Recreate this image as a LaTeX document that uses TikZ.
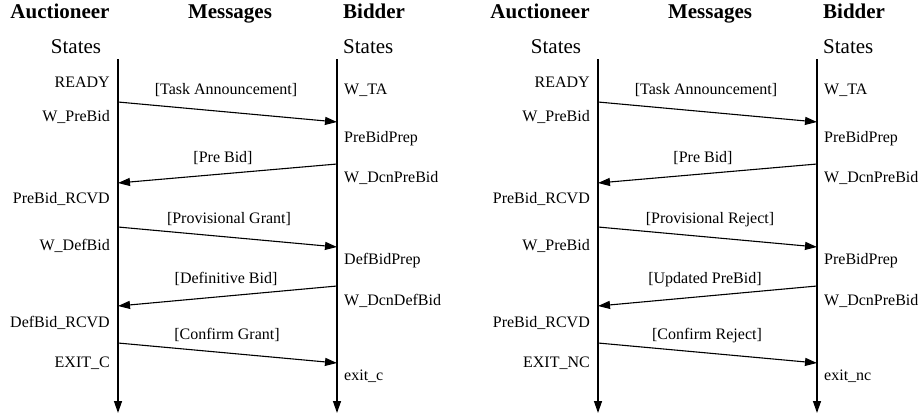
\documentclass[tikz,border=0pt]{standalone}
\usepackage{fontspec}
\setmainfont{Liberation Serif}
\usetikzlibrary{arrows.meta}
\tikzset{
  head/.style={font=\fontsize{21}{24}\selectfont\bfseries, inner sep=0pt},
  sthead/.style={font=\fontsize{21}{24}\selectfont, inner sep=0pt},
  lbl/.style={font=\fontsize{16}{18}\selectfont, inner sep=0pt},
  life/.style={line width=1.3pt, -{Triangle[length=12pt,width=8pt]}},
  msg/.style={line width=1.1pt, -{Triangle[length=12pt,width=8pt]}}
}
\begin{document}
\begin{tikzpicture}[x=1pt,y=-1pt]
\useasboundingbox (0,0) rectangle (921,418);
% ===== Left diagram =====
\node[head,anchor=base] (LhA) at (60,18) {Auctioneer};
\node[head,anchor=base] (LhM) at (230,18) {Messages};
\node[head,anchor=base west] (LhB) at (343,18) {Bidder};
\node[sthead,anchor=base] (LsA) at (76,53) {States};
\node[sthead,anchor=base west] (LsB) at (343,53) {States};
\coordinate (LaT) at (118,59); \coordinate (LaB) at (118,413);
\coordinate (LbT) at (337,59); \coordinate (LbB) at (337,413);
\draw[life] (LaT) -- (LaB);
\draw[life] (LbT) -- (LbB);
% auctioneer states
\node[lbl,anchor=base east] (La1) at (110,87) {READY};
\node[lbl,anchor=base east] (La2) at (110,121) {W\_PreBid};
\node[lbl,anchor=base east] (La3) at (110,203) {PreBid\_RCVD};
\node[lbl,anchor=base east] (La4) at (110,250) {W\_DefBid};
\node[lbl,anchor=base east] (La5) at (110,327) {DefBid\_RCVD};
\node[lbl,anchor=base east] (La6) at (110,367) {EXIT\_C};
% bidder states
\node[lbl,anchor=base west] (Lb1) at (344,94) {W\_TA};
\node[lbl,anchor=base west] (Lb2) at (344,142) {PreBidPrep};
\node[lbl,anchor=base west] (Lb3) at (344,182) {W\_DcnPreBid};
\node[lbl,anchor=base west] (Lb4) at (344,264) {DefBidPrep};
\node[lbl,anchor=base west] (Lb5) at (344,305) {W\_DcnDefBid};
\node[lbl,anchor=base west] (Lb6) at (344,380) {exit\_c};
% messages
\coordinate (Lm1s) at (118,102); \coordinate (Lm1e) at (337,122);
\coordinate (Lm2s) at (337,164); \coordinate (Lm2e) at (118,183);
\coordinate (Lm3s) at (118,227); \coordinate (Lm3e) at (337,247);
\coordinate (Lm4s) at (337,286); \coordinate (Lm4e) at (118,306);
\coordinate (Lm5s) at (118,343); \coordinate (Lm5e) at (337,363);
\draw[msg] (Lm1s) -- (Lm1e);
\draw[msg] (Lm2s) -- (Lm2e);
\draw[msg] (Lm3s) -- (Lm3e);
\draw[msg] (Lm4s) -- (Lm4e);
\draw[msg] (Lm5s) -- (Lm5e);
\node[lbl,anchor=base] (Ll1) at (226,94) {[Task Announcement]};
\node[lbl,anchor=base] (Ll2) at (223,162) {[Pre Bid]};
\node[lbl,anchor=base] (Ll3) at (229,223) {[Provisional Grant]};
\node[lbl,anchor=base] (Ll4) at (226,283) {[Definitive Bid]};
\node[lbl,anchor=base] (Ll5) at (227,339) {[Confirm Grant]};
% ===== Right diagram =====
\node[head,anchor=base] (RhA) at (540,18) {Auctioneer};
\node[head,anchor=base] (RhM) at (710,18) {Messages};
\node[head,anchor=base west] (RhB) at (823,18) {Bidder};
\node[sthead,anchor=base] (RsA) at (556,53) {States};
\node[sthead,anchor=base west] (RsB) at (823,53) {States};
\coordinate (RaT) at (598,59); \coordinate (RaB) at (598,413);
\coordinate (RbT) at (817,59); \coordinate (RbB) at (817,413);
\draw[life] (RaT) -- (RaB);
\draw[life] (RbT) -- (RbB);
\node[lbl,anchor=base east] (Ra1) at (590,87) {READY};
\node[lbl,anchor=base east] (Ra2) at (590,121) {W\_PreBid};
\node[lbl,anchor=base east] (Ra3) at (590,203) {PreBid\_RCVD};
\node[lbl,anchor=base east] (Ra4) at (590,250) {W\_PreBid};
\node[lbl,anchor=base east] (Ra5) at (590,327) {PreBid\_RCVD};
\node[lbl,anchor=base east] (Ra6) at (590,367) {EXIT\_NC};
\node[lbl,anchor=base west] (Rb1) at (824,94) {W\_TA};
\node[lbl,anchor=base west] (Rb2) at (824,142) {PreBidPrep};
\node[lbl,anchor=base west] (Rb3) at (824,182) {W\_DcnPreBid};
\node[lbl,anchor=base west] (Rb4) at (824,264) {PreBidPrep};
\node[lbl,anchor=base west] (Rb5) at (824,305) {W\_DcnPreBid};
\node[lbl,anchor=base west] (Rb6) at (824,380) {exit\_nc};
\coordinate (Rm1s) at (598,102); \coordinate (Rm1e) at (817,122);
\coordinate (Rm2s) at (817,164); \coordinate (Rm2e) at (598,183);
\coordinate (Rm3s) at (598,227); \coordinate (Rm3e) at (817,247);
\coordinate (Rm4s) at (817,286); \coordinate (Rm4e) at (598,306);
\coordinate (Rm5s) at (598,343); \coordinate (Rm5e) at (817,363);
\draw[msg] (Rm1s) -- (Rm1e);
\draw[msg] (Rm2s) -- (Rm2e);
\draw[msg] (Rm3s) -- (Rm3e);
\draw[msg] (Rm4s) -- (Rm4e);
\draw[msg] (Rm5s) -- (Rm5e);
\node[lbl,anchor=base] (Rl1) at (706,94) {[Task Announcement]};
\node[lbl,anchor=base] (Rl2) at (703,162) {[Pre Bid]};
\node[lbl,anchor=base] (Rl3) at (710,223) {[Provisional Reject]};
\node[lbl,anchor=base] (Rl4) at (705,283) {[Updated PreBid]};
\node[lbl,anchor=base] (Rl5) at (707,339) {[Confirm Reject]};
\end{tikzpicture}
\end{document}
